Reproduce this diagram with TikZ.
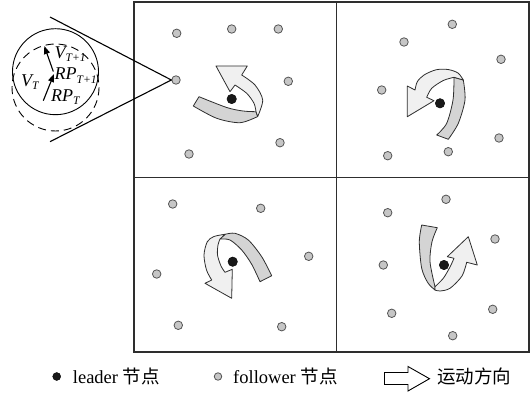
\documentclass[tikz,border=0pt]{standalone}
\usepackage{fontspec}
\setmainfont{Liberation Serif}
\newfontfamily\cjk{Noto Sans CJK SC}
\usetikzlibrary{arrows.meta}
\definecolor{edgec}{HTML}{2E2E2E}
\definecolor{backc}{HTML}{D4D4D4}
\definecolor{frontc}{HTML}{F0F0F0}
\definecolor{dotc}{HTML}{C6C6C6}
\definecolor{dotline}{HTML}{555555}
% italic symbol with a lowered subscript
\newcommand{\maglab}[2]{\fontsize{18}{18}\selectfont\itshape #1\raisebox{-3pt}{\fontsize{11.5}{11.5}\selectfont #2}}
\begin{document}
\begin{tikzpicture}[x=1pt,y=-1pt,
  follower/.style={circle,fill=dotc,draw=dotline,line width=0.8pt,minimum size=8.5pt,inner sep=0pt},
  leader/.style={circle,fill=black!90,draw=black,minimum size=9.5pt,inner sep=0pt},
  frame/.style={draw=edgec,line width=1.2pt},
  back/.style={fill=backc,draw=edgec,line width=0.8pt,line join=round},
  front/.style={fill=frontc,draw=edgec,line width=0.8pt,line join=round},
  lbl/.style={anchor=base west,inner sep=0pt},
  legtext/.style={anchor=base west,inner sep=0pt,font=\fontsize{18.5}{18.5}\selectfont},
  vec/.style={line width=1.1pt,-{Triangle[length=8pt,width=6pt]}}]
\useasboundingbox (0,0) rectangle (530,396);

% panel frame
\draw[frame] (134,2) rectangle (529,352);
\draw[frame] (336.5,2) -- (336.5,352);
\draw[frame] (134,177.5) -- (529,177.5);

% ---------- upper left panel ----------
\node[follower] (a1) at (176.7,33.3) {};
\node[follower] (a2) at (231.7,29) {};
\node[follower] (a3) at (278.3,29) {};
\node[follower] (a4) at (176,80) {};
\node[follower] (a5) at (288.3,81.3) {};
\node[follower] (a6) at (280,142.7) {};
\node[follower] (a7) at (189,154) {};
\draw[back] (193.3,106) -- plot[smooth] coordinates {(193.3,106) (216.7,118.3) (240,122.7) (257.7,116.5)}
  -- (256,111.7) -- plot[smooth] coordinates {(256,111.7) (243,111) (226.7,107.5) (199,96.7)} -- cycle;
\draw[front] (216,66) -- (247.3,66) -- (241.7,75)
  -- plot[smooth] coordinates {(241.7,75) (255,85) (262.7,100) (257.7,116.5)}
  -- (256,111.7) -- plot[smooth] coordinates {(256,111.7) (254,103.3) (246.7,93.3) (235,85)}
  -- (230,91.7) -- cycle;
\node[leader] (la) at (231.7,99) {};

% ---------- upper right panel ----------
\node[follower] (b1) at (452.3,24.3) {};
\node[follower] (b2) at (404,42) {};
\node[follower] (b3) at (501,59.3) {};
\node[follower] (b4) at (381.7,90) {};
\node[follower] (b5) at (499,138) {};
\node[follower] (b6) at (448.3,151.7) {};
\node[follower] (b7) at (387.7,155.7) {};
\draw[back] (454,77.3) -- plot[smooth] coordinates {(454,77.3) (453,100) (446.7,123.3) (436.7,135)}
  -- (448.3,139.3) -- plot[smooth] coordinates {(448.3,139.3) (458.3,123.3) (465,100) (463.3,80)} -- cycle;
\draw[front] (407.3,86) -- (407.3,116.7) -- (434,100.7) -- (426.7,97.3)
  -- plot[smooth] coordinates {(426.7,97.3) (431.7,88.3) (443.3,80.5) (454,77.3)}
  -- (463.3,80) -- plot[smooth] coordinates {(463.3,80) (458,73) (448,69.5) (436,69.8) (424,75) (417.3,81.7) (415,90)}
  -- cycle;
\node[leader] (lb) at (440,103.3) {};

% ---------- lower left panel ----------
\node[follower] (c1) at (172.7,204) {};
\node[follower] (c2) at (260.7,208.3) {};
\node[follower] (c3) at (308.7,256.3) {};
\node[follower] (c4) at (156.7,274) {};
\node[follower] (c5) at (178.3,325.3) {};
\node[follower] (c6) at (281.7,326.7) {};
\draw[back] (220,239) -- plot[smooth] coordinates {(220,239) (230,240) (241.7,250) (251.7,264.3) (260,281.7)}
  -- (271.7,275.7) -- plot[smooth] coordinates {(271.7,275.7) (261.7,256.7) (248.3,240) (235,233.3) (225,234.3)} -- cycle;
\draw[front] (211.7,280) -- (205,283.3) -- (231.7,298.3) -- (232.3,269.3) -- (225,272.3)
  -- plot[smooth] coordinates {(225,272.3) (221,266) (217.5,255) (218,245) (220,239)}
  -- (225,234.3) -- plot[smooth] coordinates {(225,234.3) (214,236.5) (207.3,241.7) (204,255) (206.5,270) (211.7,280)}
  -- cycle;
\node[leader] (lc) at (232.7,261.7) {};

% ---------- lower right panel ----------
\node[follower] (d1) at (446,199.3) {};
\node[follower] (d2) at (387.7,212.7) {};
\node[follower] (d3) at (495,239) {};
\node[follower] (d4) at (383.3,265) {};
\node[follower] (d5) at (492.7,309.3) {};
\node[follower] (d6) at (391.7,313.3) {};
\node[follower] (d7) at (452.7,335.7) {};
\draw[back] (421.7,225) -- (437.3,227.7)
  -- plot[smooth] coordinates {(437.3,227.7) (432,241.7) (430,261.7) (435,286.7)}
  -- (435,290) -- plot[smooth] coordinates {(435,290) (428,283) (421.7,268.3) (419.3,241.7) (421.7,225)} -- cycle;
\draw[front] (454,258.3) -- (447.3,256.7) -- (468.3,236.7) -- (477.3,265) -- (466.7,262.3)
  -- plot[smooth] coordinates {(466.7,262.3) (462,276) (450,288.3) (440,291) (435,290)}
  -- (435,286.7) -- plot[smooth] coordinates {(435,286.7) (443.3,278.3) (450,267) (454,258.3)}
  -- cycle;
\node[leader] (ld) at (444,265) {};

% ---------- magnified follower ----------
\coordinate (mt) at (50,17);
\coordinate (mb) at (50,141.7);
\draw[line width=1.1pt] (mt) -- (a4.west) -- (mb);
\draw[line width=0.9pt] (55.5,71.7) circle[radius=43];
\draw[line width=0.9pt,dash pattern=on 8pt off 5pt] (55.5,87.5) circle[radius=43.5];
\coordinate (p1) at (53.3,71.5);
\coordinate (p0) at (43.3,100.7);
\coordinate (q1) at (44.3,46);
\draw[vec] (p1) -- (q1);
\draw[vec] (p0) -- (54,74);
\node[lbl] (vt1) at (54.5,59) {\maglab{V}{T+1}};
\node[lbl] (rp1) at (54.5,80) {\maglab{RP}{T+1}};
\node[lbl] (vt) at (21,86) {\maglab{V}{T}};
\node[lbl] (rp) at (51,101.5) {\maglab{RP}{T}};

% ---------- legend ----------
\node[leader,minimum size=8pt] (kl) at (56.7,376.5) {};
\node[legtext] (tl) at (72.7,383) {leader {\cjk 节点}};
\node[follower,minimum size=7.5pt] (kf) at (218,376.5) {};
\node[legtext] (tf) at (233,383) {follower {\cjk 节点}};
\draw[fill=white,draw=black,line width=0.9pt,line join=miter]
  (384.5,372.5) -- (408,372.5) -- (408,366.5) -- (429.5,378.7) -- (408,391) -- (408,384.5) -- (384.5,384.5) -- cycle;
\node[legtext] (tm) at (437,383) {\cjk 运动方向};
\end{tikzpicture}
\end{document}
